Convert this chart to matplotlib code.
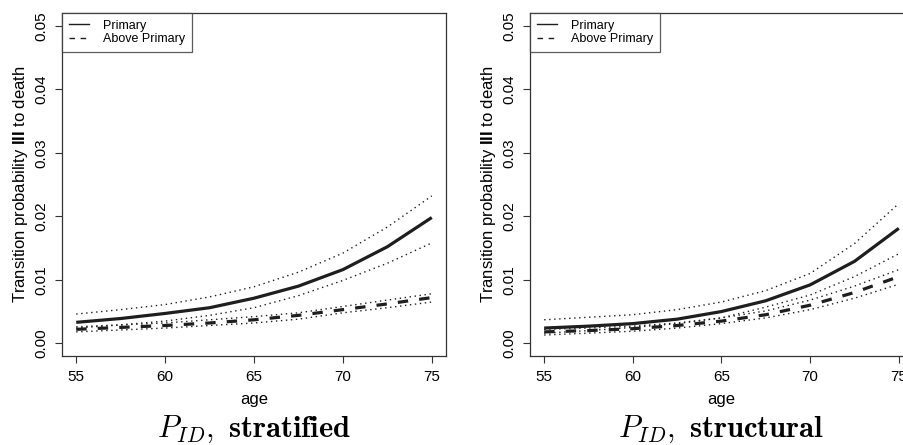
import matplotlib
matplotlib.use("Agg")
import matplotlib.pyplot as plt
from matplotlib.lines import Line2D

plt.rcParams['font.family'] = ['Liberation Sans', 'DejaVu Sans']
plt.rcParams['mathtext.fontset'] = 'custom'
plt.rcParams['mathtext.rm'] = 'Liberation Sans'
plt.rcParams['mathtext.bf'] = 'Liberation Sans:bold'
plt.rcParams['lines.scale_dashes'] = False

# ages
age = [55, 57.5, 60, 62.5, 65, 67.5, 70, 72.5, 75]

# left panel: stratified
strat_prim     = [0.0033, 0.0039, 0.0047, 0.0056, 0.0071, 0.0090, 0.0116, 0.0152, 0.0198]
strat_prim_hi  = [0.0046, 0.0053, 0.0061, 0.0073, 0.0089, 0.0112, 0.0142, 0.0183, 0.0232]
strat_prim_lo  = [0.0024, 0.0029, 0.0035, 0.0044, 0.0056, 0.0075, 0.0099, 0.0126, 0.0158]
strat_above    = [0.0022, 0.0025, 0.0028, 0.0032, 0.0037, 0.0044, 0.0053, 0.0062, 0.0072]
strat_above_hi = [0.0026, 0.0029, 0.0032, 0.0037, 0.0042, 0.0048, 0.0058, 0.0068, 0.0078]
strat_above_lo = [0.0018, 0.0021, 0.0024, 0.0028, 0.0032, 0.0038, 0.0048, 0.0056, 0.0065]

# right panel: structural
struc_prim     = [0.0024, 0.0027, 0.0031, 0.0038, 0.0050, 0.0067, 0.0092, 0.0129, 0.0181]
struc_prim_hi  = [0.0037, 0.0041, 0.0045, 0.0053, 0.0065, 0.0083, 0.0110, 0.0157, 0.0220]
struc_prim_lo  = [0.0016, 0.0020, 0.0025, 0.0031, 0.0040, 0.0057, 0.0076, 0.0105, 0.0141]
struc_above    = [0.0018, 0.0020, 0.0023, 0.0028, 0.0035, 0.0045, 0.0060, 0.0080, 0.0105]
struc_above_hi = [0.0022, 0.0024, 0.0027, 0.0032, 0.0040, 0.0051, 0.0068, 0.0090, 0.0116]
struc_above_lo = [0.0013, 0.0016, 0.0019, 0.0024, 0.0031, 0.0040, 0.0053, 0.0071, 0.0093]

xticks = [55, 60, 65, 70, 75]
yticks = [0.00, 0.01, 0.02, 0.03, 0.04, 0.05]
ylab = r"Transition probability $\mathbf{III}$ to death"
col = '#1e1e1e'
W, H = 904, 445


def panel(ax, prim, prim_hi, prim_lo, above, above_hi, above_lo, title):
    dot = dict(color=col, lw=1.0, dashes=(1.0, 2.6))
    ax.plot(age, prim_hi, **dot)
    ax.plot(age, prim_lo, **dot)
    ax.plot(age, above_hi, **dot)
    ax.plot(age, above_lo, **dot)
    ax.plot(age, prim, color=col, lw=2.3, solid_capstyle='butt')
    ax.plot(age, above, color=col, lw=2.3, dashes=(7.5, 8))
    ax.set_xlim(54.2, 75.8)
    ax.set_ylim(-0.002, 0.052)
    ax.set_xticks(xticks)
    ax.set_xticklabels([str(t) for t in xticks])
    ax.set_yticks(yticks)
    ax.set_yticklabels(['%.2f' % t for t in yticks], rotation=90, va='center')
    ax.tick_params(length=5, width=0.8, labelsize=11, pad=5, color='#333333')
    for s in ax.spines.values():
        s.set_linewidth(0.9)
        s.set_color('#333333')
    ax.set_xlabel('age', fontsize=12, labelpad=6)
    ax.set_ylabel(ylab, fontsize=12, labelpad=3)
    handles = [Line2D([], [], color=col, lw=1.0),
               Line2D([], [], color=col, lw=1.0, dashes=(4, 4))]
    leg = ax.legend(handles, ['Primary', 'Above Primary'], loc='upper left',
                    fontsize=9, frameon=True, fancybox=False, borderaxespad=0,
                    handlelength=1.6, handletextpad=1.1, labelspacing=0.1,
                    borderpad=0.55)
    leg.get_frame().set_edgecolor('#333333')
    leg.get_frame().set_linewidth(0.9)
    pos = ax.get_position()
    fig.text((pos.x0 + pos.x1) / 2, 1 - 437 / H, title, ha='center', va='baseline',
             fontsize=22, math_fontfamily='cm')


fig = plt.figure(figsize=(W / 100, H / 100), dpi=100)
ax1 = fig.add_axes([62 / W, 89 / H, 384 / W, 343 / H])
ax2 = fig.add_axes([530 / W, 89 / H, 383 / W, 343 / H])

panel(ax1, strat_prim, strat_prim_hi, strat_prim_lo,
      strat_above, strat_above_hi, strat_above_lo,
      r"$P_{ID},\ \mathbf{stratified}$")
panel(ax2, struc_prim, struc_prim_hi, struc_prim_lo,
      struc_above, struc_above_hi, struc_above_lo,
      r"$P_{ID},\ \mathbf{structural}$")

fig.savefig('out.png', dpi=100)
